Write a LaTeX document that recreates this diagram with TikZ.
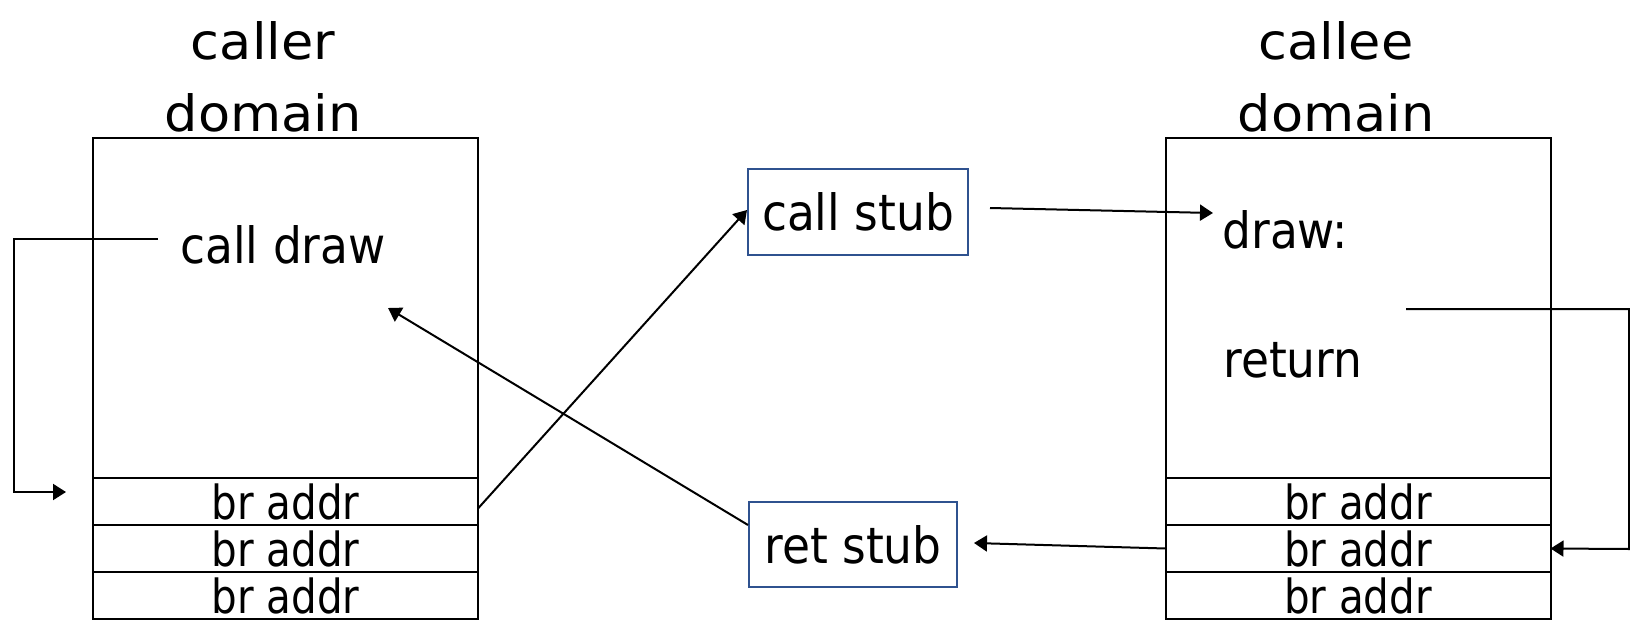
\documentclass[tikz,border=0pt]{standalone}
\usepackage{fontspec}
\setmainfont{DejaVu Sans}
\newfontfamily\titlefont[FakeStretch=1.05]{DejaVu Sans}
\newfontfamily\codefont[FakeStretch=0.91]{DejaVu Sans}
\newfontfamily\slotfont[FakeStretch=0.86]{DejaVu Sans}
\usetikzlibrary{positioning,arrows.meta}
\definecolor{stubblue}{RGB}{47,82,143}

\begin{document}
\begin{tikzpicture}[x=0.5pt,y=-0.5pt,
  frame/.style={draw,line width=1pt,outer sep=0pt,inner sep=0pt,minimum width=192.5pt},
  codearea/.style={frame,minimum height=170pt},
  slot/.style={frame,minimum height=23.5pt,font=\slotfont\fontsize{23.5pt}{28pt}\selectfont},
  stub/.style={draw=stubblue,line width=1pt,inner sep=0pt,font=\codefont\fontsize{25pt}{30pt}\selectfont},
  code/.style={inner sep=0pt,anchor=base west,font=\codefont\fontsize{25pt}{30pt}\selectfont},
  title/.style={inner sep=0pt,anchor=south,align=center,font=\titlefont\fontsize{25pt}{36pt}\selectfont},
  conn/.style={line width=1pt,-{Triangle[length=6.5pt,width=8pt]}}]
\useasboundingbox (0,0) rectangle (1630,622);

\def\xl{285.5}
\def\xr{1358}
\def\ycode{308}

\node[codearea] (lcode) at (\xl,\ycode) {};
\node[slot,below=0pt of lcode] (l1) {br addr};
\node[slot,below=0pt of l1] (l2) {br addr};
\node[slot,below=0pt of l2] (l3) {br addr};

\node[codearea] (rcode) at (\xr,\ycode) {};
\node[slot,below=0pt of rcode] (r1) {br addr};
\node[slot,below=0pt of r1] (r2) {br addr};
\node[slot,below=0pt of r2] (r3) {br addr};

\node[title] (ltitle) at (263,132.5) {caller\\domain};
\node[title] (rtitle) at (1336,132.5) {callee\\domain};

\node[code] (calldraw) at (180,263) {call draw};
\node[code] (drawlbl) at (1222,248) {draw:};
\node[code] (retlbl) at (1223,377) {return};

\node[stub,minimum width=110pt,minimum height=43pt] (cstub) at (858,212) {call stub};
\node[stub,minimum width=104pt,minimum height=42.5pt] (rstub) at (853,544.5) {ret stub};

\coordinate (cdout) at (158,239);
\coordinate (lloop) at (14,492);
\coordinate (l1in) at (66,492);
\coordinate (cdin) at (388,308);
\coordinate (csout) at (990,208);
\coordinate (drawin) at (1213,213);
\coordinate (retout) at (1406,309);
\coordinate (rloop) at (1629,549);
\coordinate (rsin) at (974,543);

\draw[conn] (cdout) -| (lloop) -- (l1in);
\draw[conn] ([yshift=-3.5pt]l1.east) -- ([yshift=1pt]cstub.west);
\draw[conn] ([yshift=9.75pt]rstub.west) -- (cdin);
\draw[conn] (csout) -- (drawin);
\draw[conn] (retout) -| (rloop) -- (r2.east);
\draw[conn] (r2.west) -- (rsin);

\end{tikzpicture}
\end{document}
